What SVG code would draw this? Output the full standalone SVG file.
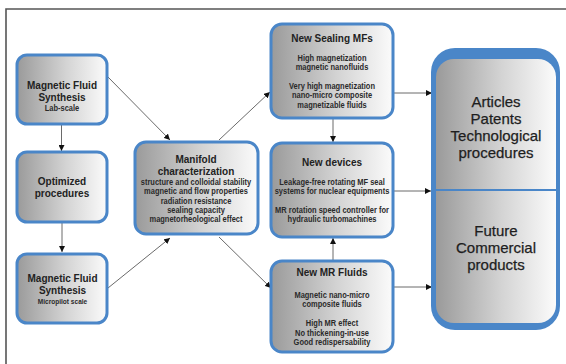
<svg xmlns="http://www.w3.org/2000/svg" width="566" height="364" viewBox="0 0 566 364">
<defs>
<linearGradient id="g" x1="0" y1="0" x2="1" y2="0">
<stop offset="0" stop-color="#9a9a9a"/>
<stop offset="0.55" stop-color="#d4d4d4"/>
<stop offset="1" stop-color="#fbfbfb"/>
</linearGradient>
<marker id="a" viewBox="0 0 10 10" refX="10" refY="5" markerWidth="6" markerHeight="6" orient="auto" markerUnits="userSpaceOnUse">
<path d="M0,0 L10,5 L0,10 z" fill="#111"/>
</marker>
<style>
.box{fill:url(#g);stroke:#4a86c8;stroke-width:3}
.t{font-family:"Liberation Sans",Arial,sans-serif;font-weight:bold;font-size:10px;fill:#222;text-anchor:middle}
.s{font-family:"Liberation Sans",Arial,sans-serif;font-weight:bold;font-size:8.5px;fill:#2a2a2a;text-anchor:middle}
.b{font-family:"Liberation Sans",Arial,sans-serif;font-size:15px;fill:#1e1e1e;stroke:#1e1e1e;stroke-width:0.25;text-anchor:middle}
.c{fill:none;stroke:#444;stroke-width:0.8;marker-end:url(#a)}
</style>
</defs>
<rect width="566" height="364" fill="#fff"/>
<polyline points="6,364 6,9 566,9" fill="none" stroke="#555" stroke-width="1.6"/>

<g id="connectors">
<line class="c" x1="107" y1="76" x2="170" y2="140"/>
<line class="c" x1="108" y1="288" x2="170" y2="238"/>
<line class="c" x1="61.5" y1="125" x2="61.5" y2="151"/>
<line class="c" x1="62" y1="223" x2="62" y2="252"/>
<line class="c" x1="219" y1="140" x2="270" y2="92"/>
<line class="c" x1="219" y1="237" x2="271" y2="288"/>
<line class="c" x1="333" y1="118" x2="333" y2="142"/>
<line class="c" x1="333" y1="260" x2="333" y2="238"/>
<line class="c" x1="394" y1="93" x2="432" y2="93"/>
<line class="c" x1="394" y1="191" x2="431" y2="191"/>
<line class="c" x1="394" y1="287" x2="432" y2="287"/>
</g>

<g id="lab">
<rect class="box" x="17" y="55" width="90" height="69" rx="10"/>
<text class="t" x="62" y="89">Magnetic Fluid</text>
<text class="t" x="62" y="101">Synthesis</text>
<g transform="translate(62 0) scale(0.88 1)"><text class="s" x="0" y="111">Lab-scale</text></g>
</g>

<g id="optimized">
<rect class="box" x="17" y="152" width="90" height="70" rx="10"/>
<text class="t" x="62" y="185">Optimized</text>
<text class="t" x="62" y="197">procedures</text>
</g>

<g id="micropilot">
<rect class="box" x="17" y="254" width="90" height="69" rx="10"/>
<text class="t" x="62.5" y="282">Magnetic Fluid</text>
<text class="t" x="62.5" y="294">Synthesis</text>
<g transform="translate(62.5 0) scale(0.82 1)"><text class="s" x="0" y="304" style="font-size:8px">Micropilot scale</text></g>
</g>

<g id="manifold">
<rect class="box" x="135" y="142" width="123" height="92" rx="11"/>
<text class="t" x="196" y="163">Manifold</text>
<text class="t" x="196" y="175">characterization</text>
<g transform="translate(196 0) scale(0.88 1)">
<text class="s" x="0" y="185">structure and colloidal stability</text>
<text class="s" x="0" y="194.5">magnetic and flow properties</text>
<text class="s" x="0" y="204">radiation resistance</text>
<text class="s" x="0" y="213">sealing capacity</text>
<text class="s" x="0" y="222.5">magnetorheological effect</text>
</g>
</g>

<g id="sealing">
<rect class="box" x="271" y="24" width="122" height="94" rx="11"/>
<text class="t" x="332" y="42">New Sealing MFs</text>
<g transform="translate(332 0) scale(0.88 1)">
<text class="s" x="0" y="61">High magnetization</text>
<text class="s" x="0" y="70.5">magnetic nanofluids</text>
<text class="s" x="0" y="89">Very high magnetization</text>
<text class="s" x="0" y="98.5">nano-micro composite</text>
<text class="s" x="0" y="108">magnetizable fluids</text>
</g>
</g>

<g id="devices">
<rect class="box" x="271" y="143" width="122" height="94" rx="11"/>
<text class="t" x="332" y="166">New devices</text>
<g transform="translate(332 0) scale(0.88 1)">
<text class="s" x="0" y="185">Leakage-free rotating MF seal</text>
<text class="s" x="0" y="194.5">systems for nuclear equipments</text>
<text class="s" x="0" y="213">MR rotation speed controller for</text>
<text class="s" x="0" y="222.5">hydraulic turbomachines</text>
</g>
</g>

<g id="mrfluids">
<rect class="box" x="271" y="261" width="122" height="91" rx="11"/>
<text class="t" x="332" y="276">New MR Fluids</text>
<g transform="translate(332 0) scale(0.88 1)">
<text class="s" x="0" y="298">Magnetic nano-micro</text>
<text class="s" x="0" y="307.5">composite fluids</text>
<text class="s" x="0" y="326.5">High MR effect</text>
<text class="s" x="0" y="336">No thickening-in-use</text>
<text class="s" x="0" y="345.5">Good redispersability</text>
</g>
</g>

<g id="outcomes">
<rect x="431" y="48" width="129" height="282" rx="24" fill="#4a86c8"/>
<rect x="436" y="59" width="120" height="264" rx="18" fill="url(#g)"/>
<line x1="436" y1="190" x2="556" y2="190" stroke="#4a86c8" stroke-width="1.8"/>
<text class="b" x="496" y="107">Articles</text>
<text class="b" x="496" y="124">Patents</text>
<text class="b" x="496" y="141">Technological</text>
<text class="b" x="496" y="158">procedures</text>
<text class="b" x="496" y="236">Future</text>
<text class="b" x="496" y="253">Commercial</text>
<text class="b" x="496" y="270">products</text>
</g>
</svg>
